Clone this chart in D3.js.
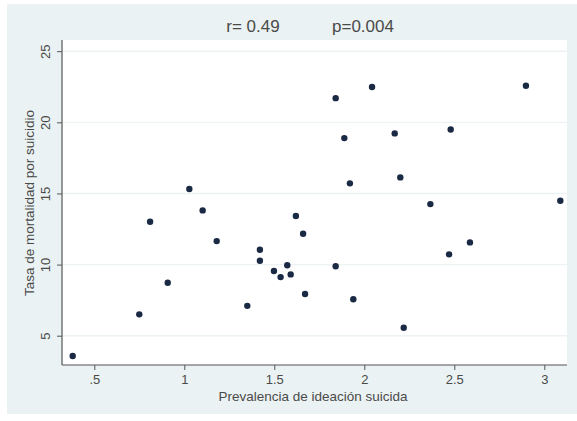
<!DOCTYPE html>
<html>
<head>
<meta charset="utf-8">
<script src="https://cdn.jsdelivr.net/npm/d3@7"></script>
<style>
  body { margin: 0; background: #fff; }
  svg { display: block; font-family: "Liberation Sans", Arial, sans-serif; }
  .tick text { fill: #4a4a4a; }
</style>
</head>
<body>
<div id="chart"></div>
<script>
// prevalence of suicidal ideation (x) and suicide mortality rate (y)
const prevalencia = [0.38, 0.75, 0.81, 0.908, 1.028, 1.102, 1.18, 1.35,
  1.841, 2.043, 1.889, 2.169, 1.92, 2.2, 1.62, 1.66, 1.42, 1.42, 1.572, 1.498,
  1.591, 1.535, 1.841, 1.671, 1.939, 2.219, 2.898, 2.48, 2.367, 3.089, 2.587, 2.471];
const mortalidad = [3.57, 6.5, 13.01, 8.72, 15.31, 13.81, 11.65, 7.1,
  21.7, 22.48, 18.89, 19.22, 15.71, 16.13, 13.41, 12.17, 11.04, 10.27, 9.95, 9.55,
  9.31, 9.12, 9.88, 7.93, 7.56, 5.56, 22.57, 19.5, 14.25, 14.49, 11.56, 10.72];
const xTicks = [0.5, 1, 1.5, 2, 2.5, 3];
const yTicks = [5, 10, 15, 20, 25];
const titleParts = ['r= 0.49', 'p=0.004'];

const points = prevalencia.map((x, i) => ({ x, y: mortalidad[i] }));

const width = 577;
const height = 421;
const plot = { left: 62, right: 567, top: 40, bottom: 365 };

const svg = d3.select('#chart')
  .append('svg')
  .attr('width', width)
  .attr('height', height);

// outer graph region
svg.append('rect')
  .attr('x', 7).attr('y', 4)
  .attr('width', width - 7).attr('height', 410)
  .attr('fill', '#eaf2f3');

svg.append('rect')
  .attr('x', plot.left).attr('y', plot.top)
  .attr('width', plot.right - plot.left).attr('height', plot.bottom - plot.top)
  .attr('fill', '#ffffff');

const xScale = d3.scaleLinear().domain([0.5, 3]).range([94.3, 544.3]);
const yScale = d3.scaleLinear().domain([5, 25]).range([335.7, 51.2]);

// faint horizontal gridlines
svg.append('g')
  .selectAll('line')
  .data(yTicks)
  .join('line')
  .attr('x1', plot.left).attr('x2', plot.right)
  .attr('y1', d => yScale(d)).attr('y2', d => yScale(d))
  .attr('stroke', '#edf2f4')
  .attr('stroke-width', 1.4);

const xAxis = d3.axisBottom(xScale)
  .tickValues(xTicks)
  .tickSize(5)
  .tickSizeOuter(0)
  .tickFormat(d => d === 0.5 ? '.5' : String(d));

const gx = svg.append('g')
  .attr('transform', `translate(0, ${plot.bottom})`)
  .call(xAxis);
gx.select('.domain').remove();
gx.append('line')
  .attr('x1', plot.left).attr('x2', plot.right)
  .attr('stroke', '#555').attr('stroke-width', 1.2);
gx.selectAll('.tick line').attr('stroke', '#555');
gx.selectAll('.tick text').attr('font-size', 13).attr('dy', '0.85em');

const yAxis = d3.axisLeft(yScale)
  .tickValues(yTicks)
  .tickSize(5)
  .tickSizeOuter(0);

const gy = svg.append('g')
  .attr('transform', `translate(${plot.left}, 0)`)
  .call(yAxis);
gy.select('.domain').remove();
gy.append('line')
  .attr('y1', plot.top).attr('y2', plot.bottom)
  .attr('stroke', '#555').attr('stroke-width', 1.2);
gy.selectAll('.tick line').attr('stroke', '#555');
gy.selectAll('.tick text')
  .attr('font-size', 13)
  .attr('x', 0).attr('dy', 0)
  .attr('text-anchor', 'middle')
  .attr('transform', 'translate(-12, 0) rotate(-90)');

// axis titles
svg.append('text')
  .attr('x', 313).attr('y', 401)
  .attr('text-anchor', 'middle')
  .attr('font-size', 13.5)
  .attr('fill', '#4a4a4a')
  .text('Prevalencia de ideación suicida');

svg.append('text')
  .attr('transform', 'translate(34, 203) rotate(-90)')
  .attr('text-anchor', 'middle')
  .attr('font-size', 13.5)
  .attr('fill', '#4a4a4a')
  .text('Tasa de mortalidad por suicidio');

// title
svg.append('g')
  .selectAll('text')
  .data(titleParts)
  .join('text')
  .attr('x', (d, i) => i === 0 ? 253 : 363)
  .attr('y', 32)
  .attr('text-anchor', 'middle')
  .attr('font-size', 17)
  .attr('fill', '#4a4a4a')
  .text(d => d);

svg.append('g')
  .selectAll('circle')
  .data(points)
  .join('circle')
  .attr('cx', d => xScale(d.x))
  .attr('cy', d => yScale(d.y))
  .attr('r', 3.2)
  .attr('fill', '#1b2a44');
</script>
</body>
</html>
